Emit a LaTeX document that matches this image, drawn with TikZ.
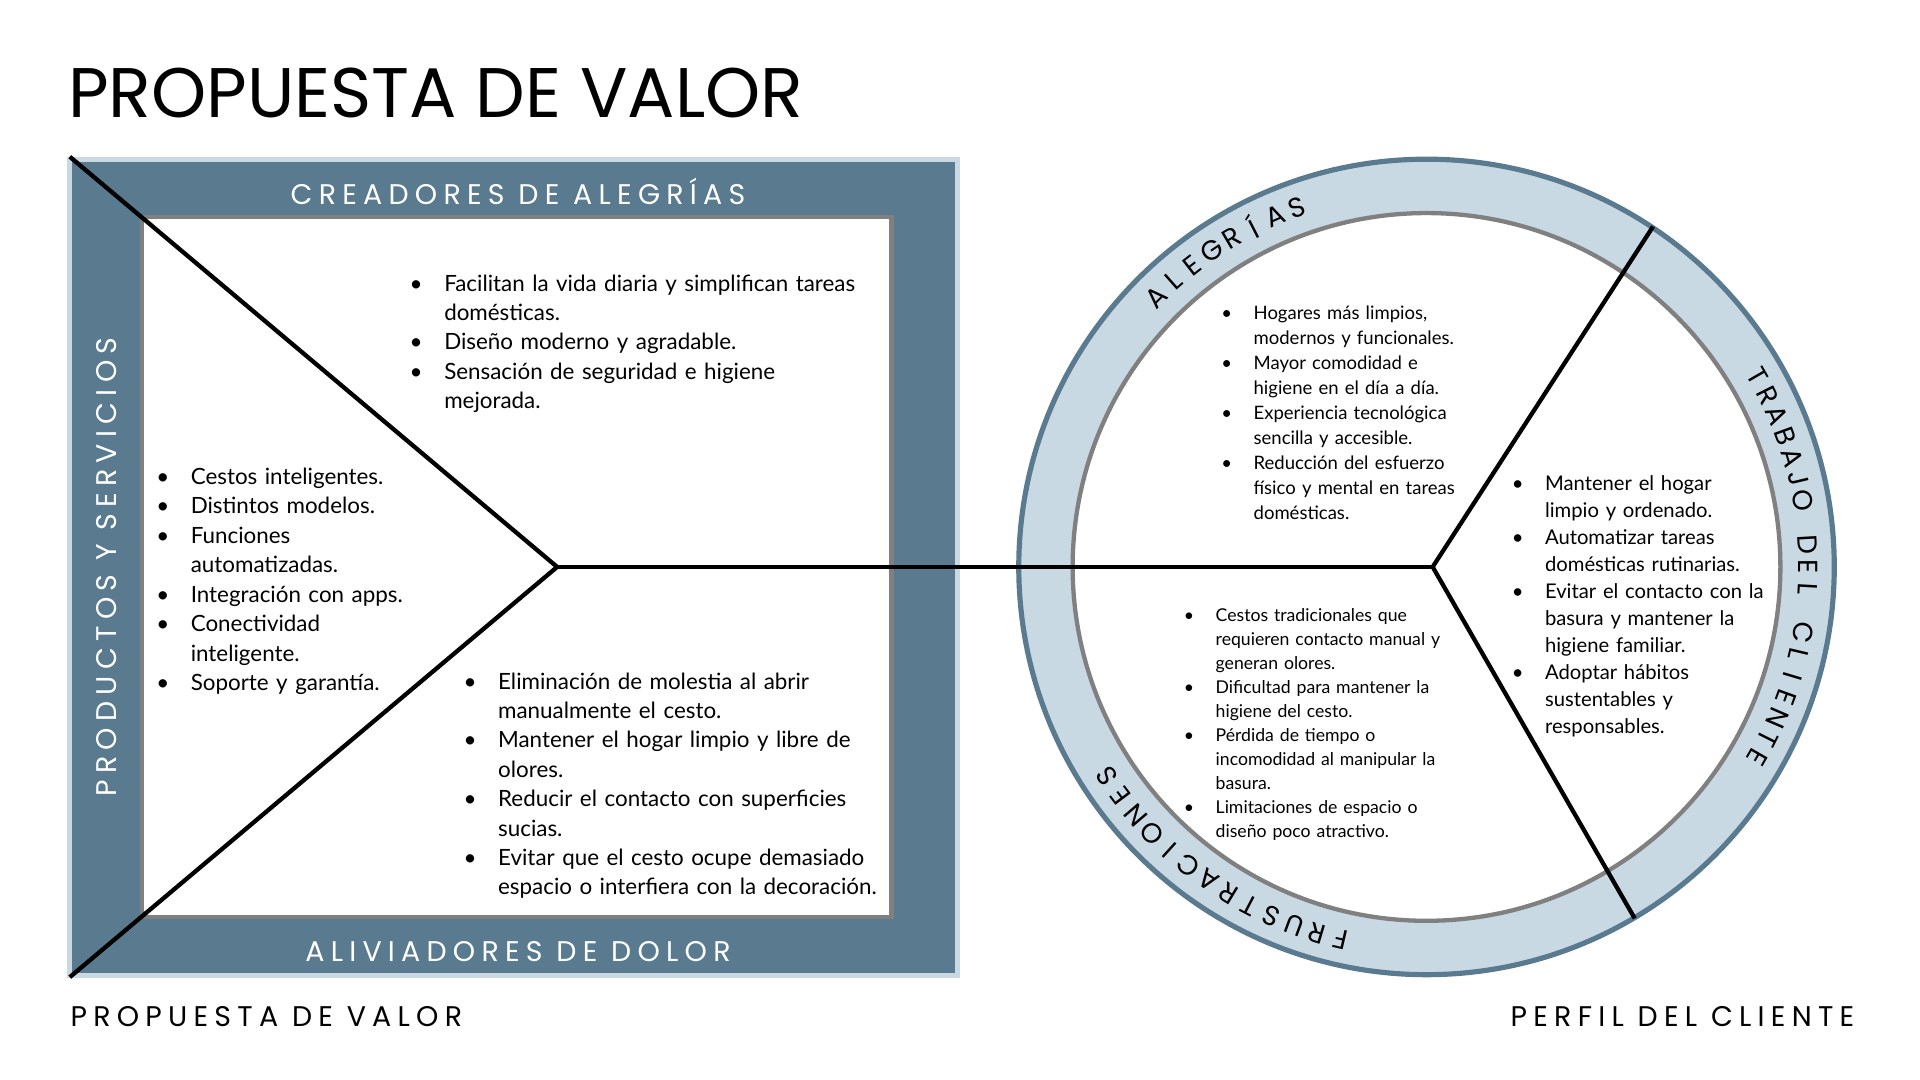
\documentclass[tikz,border=0pt]{standalone}
\usepackage{fontspec}
\usepackage{enumitem}
\setmainfont{Lato}
\newfontfamily\headfont{Poppins}
\usetikzlibrary{calc}
\definecolor{slate}{HTML}{5A7B8F}
\definecolor{mist}{HTML}{C8D9E4}
\tikzstyle{heading}=[font=\headfont\fontsize{6.6}{7}\selectfont\addfontfeature{LetterSpace=22}]
\tikzstyle{headingw}=[heading,text=white]
\tikzstyle{ring}=[font=\headfont\fontsize{6.4}{7}\selectfont,inner sep=0pt]
\tikzstyle{blist}=[anchor=north west,inner sep=0pt,align=left]
\tikzstyle{cut}=[line width=1pt,black]
\newcommand{\bl}[1]{\begin{itemize}[leftmargin=6pt,nosep,label=\textbullet]#1\end{itemize}}

\begin{document}
\begin{tikzpicture}[x=0.01cm,y=0.01cm]
	\useasboundingbox (0,0) rectangle (1568,-882);
	\node[anchor=base west,inner sep=0pt,font=\headfont\fontsize{16.3}{18}\selectfont] (title) at (55,-96) {PROPUESTA DE VALOR};

	% value map square
	\draw[fill=slate,draw=mist,line width=1.2pt] (57,-130) rectangle (782,-797);
	\draw[fill=white,draw=gray,line width=1pt] (116,-177) rectangle (728,-749);
	\node[headingw] (gain) at (423,-156) {CREADORES DE ALEGRÍAS};
	\node[headingw] (pain) at (423,-777) {ALIVIADORES DE DOLOR};
	\node[headingw,rotate=90] (prod) at (87,-463) {PRODUCTOS Y SERVICIOS};

	% customer profile circle
	\coordinate (O) at (1165,-463);
	\draw[fill=mist,draw=slate,line width=1.2pt] (O) circle (333);
	\draw[fill=white,draw=gray,line width=1pt] (O) circle (289);

	\coordinate (TL) at (57,-128);
	\coordinate (BL) at (57,-798);
	\coordinate (V) at (455,-463);
	\coordinate (C) at (1170,-463);
	\coordinate (UR) at (1350,-185);
	\coordinate (LR) at (1335,-750);
	\draw[cut] (TL) -- (V) -- (BL);
	\draw[cut] (V) -- (C);
	\draw[cut] (UR) -- (C) -- (LR);

	% ring labels
	\foreach \ch [count=\i] in {A,L,E,G,R,Í,A,S}
		\node[ring,rotate={135-(\i-1)*3.6-90}] at ($(O)+({135-(\i-1)*3.6}:312)$) {\ch};
	\foreach \ch [count=\i] in {T,R,A,B,A,J,O,{},D,E,L,{},C,L,I,E,N,T,E}
		\node[ring,rotate={30-(\i-1)*3.33-90}] at ($(O)+({30-(\i-1)*3.33}:312)$) {\ch};
	\foreach \ch [count=\i] in {F,R,U,S,T,R,A,C,I,O,N,E,S}
		\node[ring,rotate={257-(\i-1)*3.65-90}] at ($(O)+({257-(\i-1)*3.65}:312)$) {\ch};

	% lists
	\node[blist,text width=4.2cm,font=\fontsize{5.2}{6.83}\selectfont] (gainlist) at (341,-213) {\bl{
		\item Facilitan la vida diaria y simplifican tareas\newline domésticas.
		\item Diseño moderno y agradable.
		\item Sensación de seguridad e higiene\newline mejorada.}};
	\node[blist,text width=2.6cm,font=\fontsize{5.2}{6.83}\selectfont] (prodlist) at (134,-371) {\bl{
		\item Cestos inteligentes.
		\item Distintos modelos.
		\item Funciones\newline automatizadas.
		\item Integración con apps.
		\item Conectividad\newline inteligente.
		\item Soporte y garantía.}};
	\node[blist,text width=3.9cm,font=\fontsize{5.2}{6.83}\selectfont] (painlist) at (385,-538) {\bl{
		\item Eliminación de molestia al abrir\newline manualmente el cesto.
		\item Mantener el hogar limpio y libre de\newline olores.
		\item Reducir el contacto con superficies\newline sucias.
		\item Evitar que el cesto ocupe demasiado\newline espacio o interfiera con la decoración.}};
	\node[blist,text width=2.6cm,font=\fontsize{4.3}{5.8}\selectfont] (joylist) at (1002,-240) {\bl{
		\item Hogares más limpios,\newline modernos y funcionales.
		\item Mayor comodidad e\newline higiene en el día a día.
		\item Experiencia tecnológica\newline sencilla y accesible.
		\item Reducción del esfuerzo\newline físico y mental en tareas\newline domésticas.}};
	\node[blist,text width=2.6cm,font=\fontsize{4.1}{5.58}\selectfont] (frustlist) at (971,-487) {\bl{
		\item Cestos tradicionales que\newline requieren contacto manual y\newline generan olores.
		\item Dificultad para mantener la\newline higiene del cesto.
		\item Pérdida de tiempo o\newline incomodidad al manipular la\newline basura.
		\item Limitaciones de espacio o\newline diseño poco atractivo.}};
	\node[blist,text width=2.6cm,font=\fontsize{4.7}{6.26}\selectfont] (joblist) at (1240,-378) {\bl{
		\item Mantener el hogar\newline limpio y ordenado.
		\item Automatizar tareas\newline domésticas rutinarias.
		\item Evitar el contacto con la\newline basura y mantener la\newline higiene familiar.
		\item Adoptar hábitos\newline sustentables y\newline responsables.}};

	\node[heading,anchor=base west,inner sep=0pt] (vp) at (57,-838) {PROPUESTA DE VALOR};
	\node[heading,anchor=base east,inner sep=0pt] (cp) at (1515,-838) {PERFIL DEL CLIENTE};
\end{tikzpicture}
\end{document}
